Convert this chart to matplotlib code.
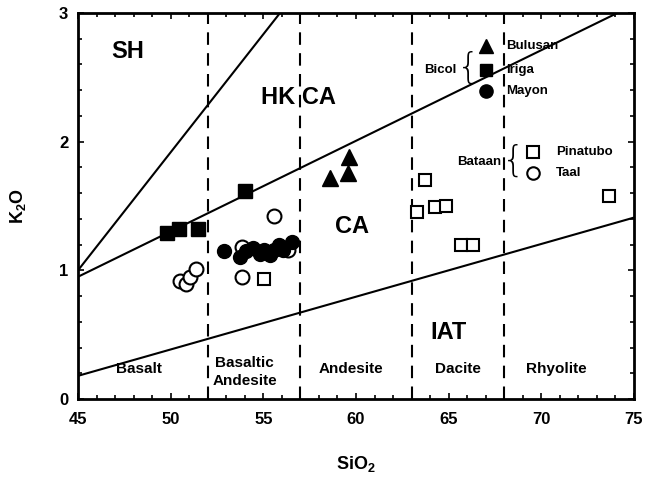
import matplotlib
matplotlib.use("Agg")
import matplotlib.pyplot as plt
from matplotlib.ticker import MultipleLocator

plt.rcParams['font.family'] = ['Liberation Sans', 'DejaVu Sans']
plt.rcParams['font.weight'] = 'bold'
plt.rcParams['mathtext.fontset'] = 'custom'
plt.rcParams['mathtext.rm'] = 'Liberation Sans:bold'
plt.rcParams['mathtext.bf'] = 'Liberation Sans:bold'

# ---- data ----
bulusan_sio2 = [58.6, 59.55, 59.6]
bulusan_k2o = [1.72, 1.76, 1.88]

iriga_sio2 = [49.8, 50.45, 51.45, 54.0]
iriga_k2o = [1.29, 1.32, 1.32, 1.62]

mayon_sio2 = [52.9, 53.75, 54.05, 54.45, 54.8, 55.05, 55.35, 55.55, 55.85, 56.05, 56.55]
mayon_k2o = [1.15, 1.10, 1.15, 1.17, 1.13, 1.16, 1.12, 1.16, 1.20, 1.16, 1.22]

pinatubo_sio2 = [55.05, 63.3, 63.7, 64.25, 64.85, 65.65, 66.3, 73.65]
pinatubo_k2o = [0.93, 1.45, 1.70, 1.49, 1.50, 1.20, 1.20, 1.58]

taal_sio2 = [50.5, 50.85, 51.05, 51.35, 53.85, 53.85, 55.55, 56.35]
taal_k2o = [0.92, 0.89, 0.95, 1.01, 1.18, 0.95, 1.42, 1.16]

# boundary lines (SiO2, K2O end points)
sh_line_x = [45, 55.9]
sh_line_y = [1.0, 3.0]
hkca_line_x = [45, 74.1]
hkca_line_y = [0.95, 3.0]
iat_line_x = [45, 75]
iat_line_y = [0.18, 1.41]

rock_bounds = [52, 57, 63, 68]

fig = plt.figure(figsize=(6.45, 4.79), dpi=100)
ax = fig.add_axes([78/645, 80/479, 556/645, 386/479])

ax.set_xlim(45, 75)
ax.set_ylim(0, 3)

lw = 1.5
ax.plot(sh_line_x, sh_line_y, color='black', lw=lw)
ax.plot(hkca_line_x, hkca_line_y, color='black', lw=lw)
ax.plot(iat_line_x, iat_line_y, color='black', lw=lw)
for xb in rock_bounds:
    ax.plot([xb, xb], [0, 3], color='black', lw=1.5, dashes=(6, 4))

# data markers
ax.plot(taal_sio2, taal_k2o, 'o', ms=10, mfc='white', mec='black', mew=1.5, zorder=3)
ax.plot(mayon_sio2, mayon_k2o, 'o', ms=10, mfc='black', mec='black', zorder=4)
ax.plot(iriga_sio2, iriga_k2o, 's', ms=9.5, mfc='black', mec='black', zorder=4)
ax.plot(bulusan_sio2, bulusan_k2o, '^', ms=11, mfc='black', mec='black', zorder=4)
ax.plot(pinatubo_sio2, pinatubo_k2o, 's', ms=9, mfc='white', mec='black', mew=1.5, zorder=4)

# field labels
ax.text(47.7, 2.70, 'SH', fontsize=17, fontweight='bold', ha='center', va='center')
ax.text(56.9, 2.34, 'HK CA', fontsize=17, fontweight='bold', ha='center', va='center')
ax.text(59.8, 1.34, 'CA', fontsize=17, fontweight='bold', ha='center', va='center')
ax.text(65.0, 0.52, 'IAT', fontsize=17, fontweight='bold', ha='center', va='center')

# rock names
rk = dict(fontsize=11, fontweight='bold', ha='center', va='center')
ax.text(48.3, 0.23, 'Basalt', **rk)
ax.text(54.0, 0.21, 'Basaltic\nAndesite', linespacing=1.35, **rk)
ax.text(59.7, 0.23, 'Andesite', **rk)
ax.text(65.5, 0.23, 'Dacite', **rk)
ax.text(70.8, 0.23, 'Rhyolite', **rk)

# legend (manual)
ax.plot([67.0], [2.74], '^', ms=10, color='black')
ax.plot([67.0], [2.56], 's', ms=8.5, color='black')
ax.plot([67.0], [2.39], 'o', ms=9.5, color='black')
lt = dict(fontsize=9.5, fontweight='bold', ha='left', va='center')
ax.text(68.1, 2.74, 'Bulusan', **lt)
ax.text(68.1, 2.56, 'Iriga', **lt)
ax.text(68.1, 2.39, 'Mayon', **lt)
ax.text(65.4, 2.56, 'Bicol', fontsize=9.5, ha='right', va='center')
ax.text(65.45, 2.575, '{', fontsize=26, fontweight='light', ha='left', va='center',
        family='DejaVu Sans')

ax.plot([69.55], [1.92], 's', ms=8, mfc='white', mec='black', mew=1.5)
ax.plot([69.55], [1.76], 'o', ms=9, mfc='white', mec='black', mew=1.5)
ax.text(70.8, 1.92, 'Pinatubo', **lt)
ax.text(70.8, 1.76, 'Taal', **lt)
ax.text(67.85, 1.84, 'Bataan', fontsize=9.5, ha='right', va='center')
ax.text(67.9, 1.855, '{', fontsize=26, fontweight='light', ha='left', va='center',
        family='DejaVu Sans')

# axes styling
for s in ax.spines.values():
    s.set_linewidth(2)
ax.xaxis.set_major_locator(MultipleLocator(5))
ax.xaxis.set_minor_locator(MultipleLocator(1))
ax.yaxis.set_major_locator(MultipleLocator(1))
ax.yaxis.set_minor_locator(MultipleLocator(0.2))
ax.tick_params(which='both', direction='in', top=True, right=True, width=1.2)
ax.tick_params(which='major', length=4, labelsize=12)
ax.tick_params(axis='x', which='major', pad=9)
ax.tick_params(axis='y', which='major', pad=7)
ax.tick_params(which='minor', length=3)
for lab in ax.get_xticklabels() + ax.get_yticklabels():
    lab.set_fontweight('bold')

ax.set_xlabel(r'$\mathbf{SiO_2}$', fontsize=13, labelpad=20)
ax.set_ylabel(r'$\mathbf{K_2O}$', fontsize=13, labelpad=22)

fig.savefig('out.png', dpi=100)
